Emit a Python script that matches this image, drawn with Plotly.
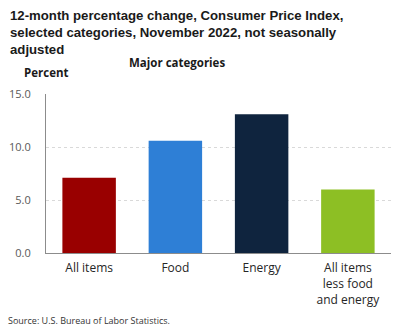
import plotly.graph_objects as go

categories = ["All items", "Food", "Energy", "All items<br>less food<br>and energy"]
values = [7.1, 10.6, 13.1, 6.0]
colors = ["#990000", "#2e7fd6", "#0f243e", "#8dbf24"]
tick_vals = [0, 5, 10, 15]
tick_text = ["0.0", "5.0", "10.0", "15.0"]

fig = go.Figure(go.Bar(x=categories, y=values, marker=dict(color=colors, line=dict(width=0)),
                       hoverinfo="skip"))

fig.update_layout(
    width=403, height=329,
    margin=dict(l=46, r=12, t=94, b=76, autoexpand=False),
    paper_bgcolor="white", plot_bgcolor="white",
    bargap=0.38,
    showlegend=False,
    font=dict(family="Open Sans", color="#404040"),
)
fig.update_yaxes(range=[0, 15], tickvals=tick_vals, ticktext=tick_text,
                 showgrid=True, gridcolor="#d9d9d9", griddash="dot", gridwidth=1,
                 showline=True, linecolor="#8c8c8c", linewidth=1,
                 tickfont=dict(size=11, color="#595959", family="Open Sans"),
                 ticks="", zeroline=False, ticklabelstandoff=12, automargin=False)
fig.update_xaxes(showline=True, linecolor="#8c8c8c", linewidth=1, ticks="",
                 tickfont=dict(size=12, color="#262626", family="Open Sans"),
                 ticklabelstandoff=4, automargin=False)

fig.add_annotation(text="<b>12-month percentage change, Consumer Price Index,<br>selected categories, November 2022, not seasonally<br>adjusted</b>",
                   xref="paper", yref="paper", x=-38/345, y=1 + 88/159, xanchor="left", yanchor="top",
                   align="left", showarrow=False,
                   font=dict(family="Liberation Sans", size=13.2, color="#1a1a1a"))
fig.add_annotation(text="<b>Major categories</b>", xref="paper", yref="paper",
                   x=(177-46)/345, y=1 + (94-62)/159, xanchor="center", yanchor="middle",
                   showarrow=False, font=dict(family="Open Sans", size=11.5, color="#1a1a1a"))
fig.add_annotation(text="<b>Percent</b>", xref="paper", yref="paper",
                   x=(22-46)/345, y=1 + (94-72)/159, xanchor="left", yanchor="middle",
                   showarrow=False, font=dict(family="Open Sans", size=11.5, color="#1a1a1a"))
fig.add_annotation(text="Source: U.S. Bureau of Labor Statistics.", xref="paper", yref="paper",
                   x=(6-46)/345, y=-(320-253)/159, xanchor="left", yanchor="middle",
                   showarrow=False, font=dict(family="Open Sans", size=9, color="#333333"))

fig.write_html("out.html")
